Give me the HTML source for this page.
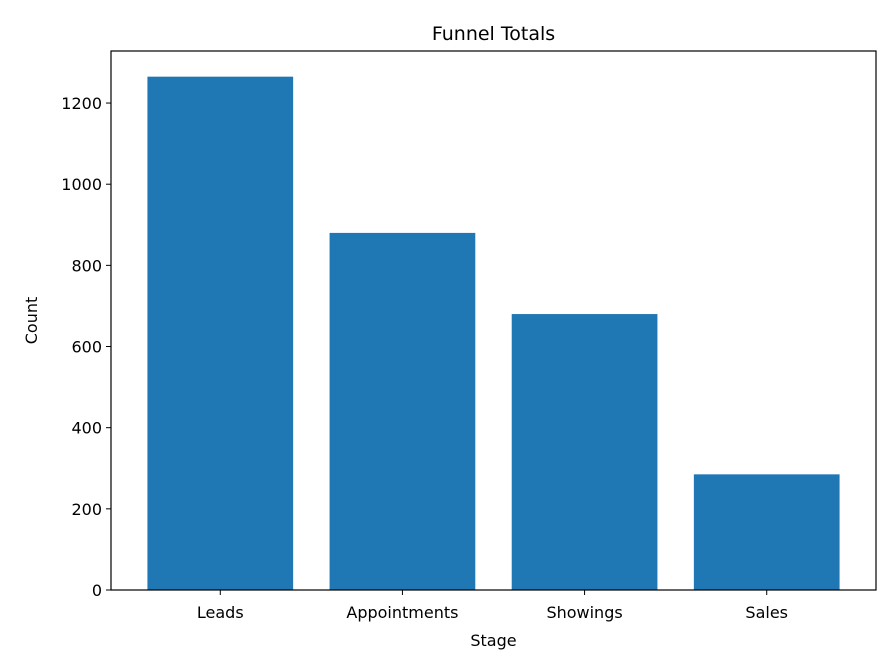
<!DOCTYPE html>
<html><head><meta charset="utf-8"><style>
body{margin:0;background:#fff}
svg{display:block;font-family:"DejaVu Sans","Liberation Sans",sans-serif}
</style></head><body>
<svg id="chart" width="896" height="672"></svg>
<script>
const categories=["Leads","Appointments","Showings","Sales"];
const counts=[1265,880,680,285];
const yTicks=[0,200,400,600,800,1000,1200];
const NS="http://www.w3.org/2000/svg";
const svg=document.getElementById('chart');
const L=111,R=876,T=51,B=590;
const ymax=Math.max(...counts)*1.05;
const x=i=>L+(i+0.6)/4.2*(R-L);
const y=v=>B-v/ymax*(B-T);
function el(tag,attrs,text){const e=document.createElementNS(NS,tag);for(const k in attrs)e.setAttribute(k,attrs[k]);if(text!==undefined)e.textContent=text;svg.appendChild(e);return e;}
const bw=0.8/4.2*(R-L);
counts.forEach((v,i)=>{
 const r=el('rect',{x:x(i)-bw/2,y:y(v),width:bw,height:B-y(v),fill:'#1f77b4'});
 
 
 el('line',{x1:x(i),x2:x(i),y1:B,y2:B+5,stroke:'#000','stroke-width':1});
 const t=el('text',{x:x(i),y:B+28,'text-anchor':'middle','font-size':16},categories[i]);
 
 
});
yTicks.forEach(v=>{
 el('line',{x1:L-5,x2:L,y1:y(v),y2:y(v),stroke:'#000','stroke-width':1});
 const t=el('text',{x:L-9,y:y(v)+6,'text-anchor':'end','font-size':16},v);
 
 
});
const fr=el('rect',{x:L,y:T,width:R-L,height:B-T,fill:'none',stroke:'#000','stroke-width':1.2});


const ti=el('text',{x:(L+R)/2,y:40,'text-anchor':'middle','font-size':19},'Funnel Totals');


const xt=el('text',{x:(L+R)/2,y:646,'text-anchor':'middle','font-size':16},'Stage');


const yt=el('text',{x:37,y:(T+B)/2,'text-anchor':'middle','font-size':16,transform:'rotate(-90 37 '+((T+B)/2)+')'},'Count');


</script>
</body></html>
